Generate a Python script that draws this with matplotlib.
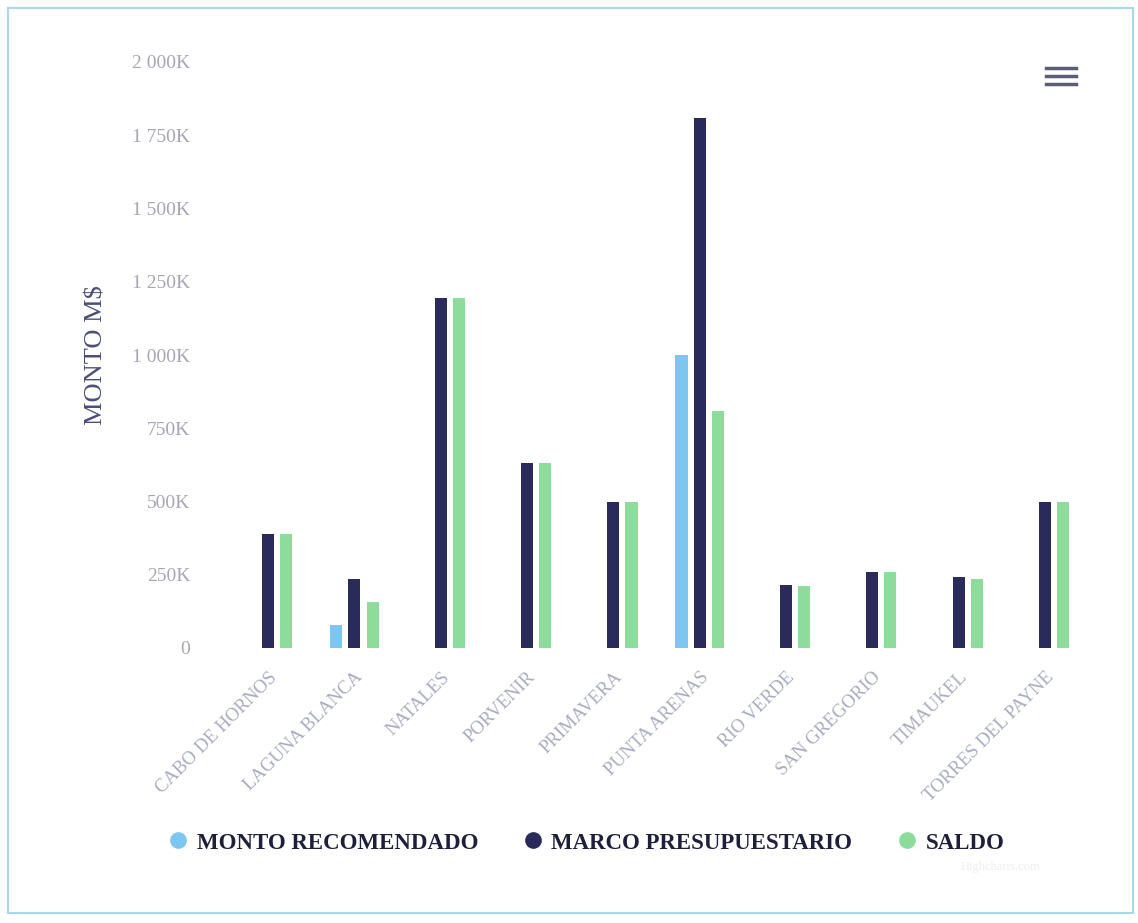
import matplotlib.pyplot as plt
from matplotlib.lines import Line2D
from matplotlib.patches import Rectangle
import numpy as np

# Datos (miles de pesos)
comunas = ['CABO DE HORNOS', 'LAGUNA BLANCA', 'NATALES', 'PORVENIR', 'PRIMAVERA',
           'PUNTA ARENAS', 'RIO VERDE', 'SAN GREGORIO', 'TIMAUKEL', 'TORRES DEL PAYNE']
monto_recomendado = [0, 80, 0, 0, 0, 1000, 0, 0, 0, 0]
marco_presupuestario = [390, 237, 1195, 631, 500, 1810, 215, 260, 242, 498]
saldo = [390, 157, 1195, 631, 500, 810, 210, 260, 235, 498]

series = ['MONTO RECOMENDADO', 'MARCO PRESUPUESTARIO', 'SALDO']
colores = ['#7cc7f2', '#2a2b5a', '#8edc9c']

plt.rcParams['font.family'] = ['Liberation Serif', 'DejaVu Serif']

fig = plt.figure(figsize=(11.38, 9.23), dpi=100)
W, H = 1138, 923
ax = fig.add_axes([225 / W, 1 - 648 / H, (1088 - 225) / W, (648 - 62) / H])

x = np.arange(len(comunas))
ancho = 0.14
desp = 0.21
for k, (vals, c) in enumerate(zip([monto_recomendado, marco_presupuestario, saldo], colores)):
    ax.bar(x + (k - 1) * desp, vals, width=ancho, color=c, zorder=2)

ax.set_xlim(-0.5, len(comunas) - 0.5)
ax.set_ylim(0, 2000)
ticks = np.arange(0, 2001, 250)
ax.set_yticks(ticks)
ax.set_yticklabels(['0' if t == 0 else f'{t:,}K'.replace(',', ' ') for t in ticks],
                   color='#a6a6b4', fontsize=14)
ax.tick_params(axis='y', length=0, pad=25)
ax.set_xticks(x)
ax.set_xticklabels(comunas, rotation=45, ha='right', rotation_mode='anchor',
                   color='#a8acc0', fontsize=13.5)
ax.tick_params(axis='x', length=0, pad=15)
for s in ax.spines.values():
    s.set_visible(False)

ax.set_ylabel('MONTO M$', fontsize=19, color='#4a4e78', labelpad=18)

# Leyenda
handles = [Line2D([0], [0], marker='o', linestyle='', markersize=11,
                  markerfacecolor=c, markeredgecolor=c) for c in colores]
fig.legend(handles, series, loc='center', bbox_to_anchor=(580 / W, 1 - 843 / H),
           ncol=3, frameon=False, prop={'size': 16.5, 'weight': 'bold'},
           handletextpad=-0.2, columnspacing=1.4, labelcolor='#1e1f3a')

# Icono de menu
for yy in [68, 76, 84]:
    fig.add_artist(Line2D([1046 / W, 1076 / W], [1 - yy / H, 1 - yy / H],
                          color='#5a5c78', linewidth=2.5))

fig.text(1000 / W, 1 - 870 / H, 'Highcharts.com', fontsize=9, color='#eeeeee', ha='center')

# Borde
fig.add_artist(Rectangle((8 / W, 10 / H), 1125 / W, 1 - 18 / H, transform=fig.transFigure,
                         fill=False, edgecolor='#a8d8ec', linewidth=1.5))

plt.savefig('out.png', dpi=100)
